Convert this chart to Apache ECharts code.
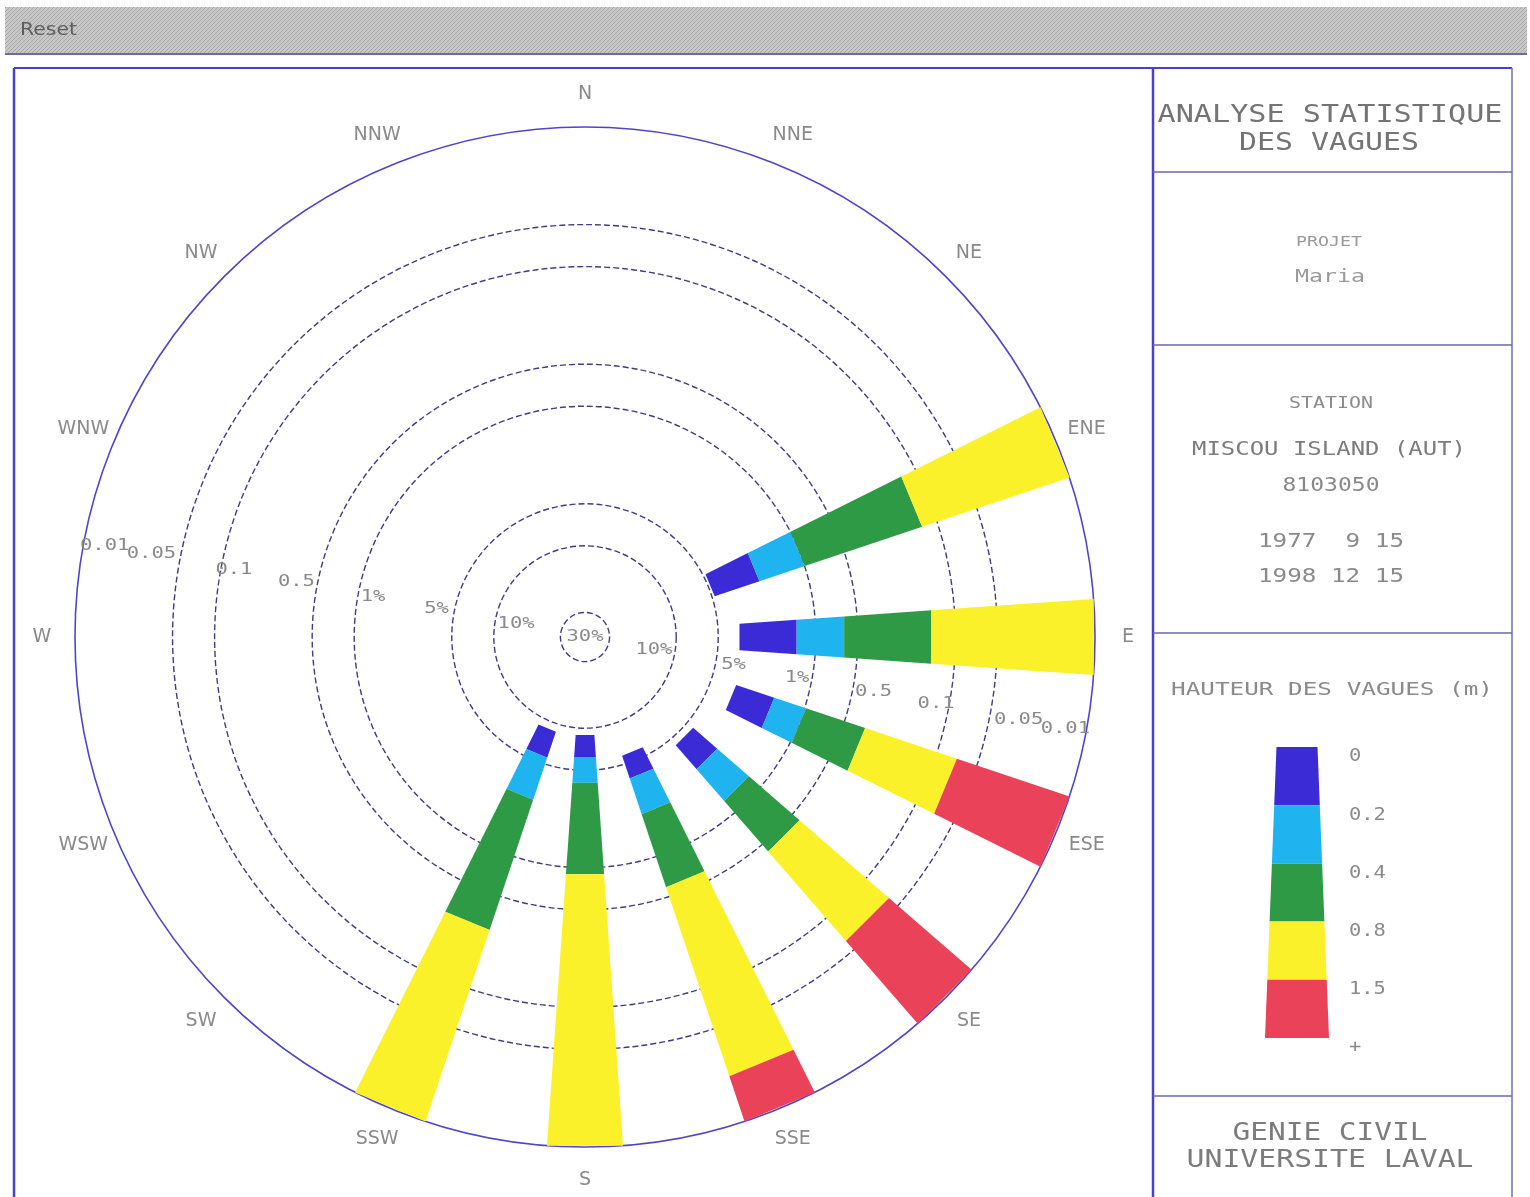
<!DOCTYPE html>
<html>
<head>
<meta charset="utf-8">
<script src="https://cdn.jsdelivr.net/npm/echarts@6/dist/echarts.min.js"></script>
<style>
html,body{margin:0;padding:0;background:#fff;}
#chart{width:1530px;height:1197px;}
</style>
</head>
<body>
<div id="chart"></div>
<script>
// ---------------- DATA ----------------
const directions = ['N','NNE','NE','ENE','E','ESE','SE','SSE','S','SSW','SW','WSW','W','WNW','NW','NNW'];
const heightClasses = ['0','0.2','0.4','0.8','1.5','+'];
// Exceedance frequency (% of time) of each wave-height threshold, per direction (null = no waves)
const exceedH000 = [null,null,null,4.8, 3.5, 3.3, 4.4, 5.8, 8.9, 8.8, null,null,null,null,null,null];
const exceedH020 = [null,null,null,2.2, 1.36,1.7, 2.6, 3.9, 6.2, 5.6, null,null,null,null,null,null];
const exceedH040 = [null,null,null,1.0, 0.62,0.98,1.3, 2.1, 4.05,2.7, null,null,null,null,null,null];
const exceedH080 = [null,null,null,0.13,0.147,0.35,0.43,0.59,0.89,0.28,null,null,null,null,null,null];
const exceedH150 = [null,null,null,null,null, 0.071,0.061,0.022,null,null,null,null,null,null,null,null];
const ringValues = [30, 10, 5, 1, 0.5, 0.1, 0.05, 0.01];
const ringLabels = ['30%','10%','5%','1%','0.5','0.1','0.05','0.01'];

// ---------------- STYLE ----------------
const RADIUS_MIN = 0.01, RADIUS_MAX = 45;
const classColors = ['#3a2bd6','#1fb3ef','#2f9a46','#fbf12b','#ea4259'];
const MONO = "'DejaVu Sans Mono', monospace";
const SANS = "'DejaVu Sans', sans-serif";
const BAR_HALF = 4.0;   // degrees
const BAR_PAD = 2.5;    // px
const LABEL_ANGLES = [100.8, 280.8];
const ringLabelShift = [0, -21, 18, -15, 21, -13, 29, -21];
const DIR_LABEL_GAP = 33; // px beyond outer ring

const mctx = document.createElement('canvas').getContext('2d');
function measure(str, size, fam) { mctx.font = size + 'px ' + fam; return mctx.measureText(str).width; }

// ---------------- BUILD SERIES DATA ----------------
const boundaries = [exceedH000, exceedH020, exceedH040, exceedH080, exceedH150];
const barData = [];
directions.forEach((d, i) => {
  if (exceedH000[i] == null) return;
  const ang = i * 22.5;
  for (let c = 0; c < boundaries.length; c++) {
    const pIn = boundaries[c][i];
    if (pIn == null) continue;
    let pOut = RADIUS_MIN;
    for (let k = c + 1; k < boundaries.length; k++) {
      if (boundaries[k][i] != null) { pOut = boundaries[k][i]; break; }
    }
    barData.push([ang, pIn, pOut, c]);
  }
});

function renderBar(params, api) {
  const ang = api.value(0), pIn = api.value(1), pOut = api.value(2), cls = api.value(3);
  const t = ang * Math.PI / 180;
  const nx = Math.cos(t), ny = Math.sin(t);
  const a = api.coord([pIn, ang - BAR_HALF]), b = api.coord([pIn, ang + BAR_HALF]);
  const c = api.coord([pOut, ang + BAR_HALF]), d = api.coord([pOut, ang - BAR_HALF]);
  const o = BAR_PAD;
  return {
    type: 'polygon',
    shape: { points: [[a[0]-o*nx, a[1]-o*ny], [b[0]+o*nx, b[1]+o*ny], [c[0]+o*nx, c[1]+o*ny], [d[0]-o*nx, d[1]-o*ny]] },
    style: { fill: classColors[cls] }
  };
}

function ringText(str, x, y) {
  return { type: 'text', x: x, y: y, scaleX: 1.28,
    style: { text: str, fontSize: 16, fontFamily: MONO, fill: '#8a8a8a', align: 'center', verticalAlign: 'middle' } };
}

function renderRing(params, api) {
  const i = params.dataIndex;
  const p = api.value(0);
  const cs = params.coordSys;
  const edge = api.coord([p, 90]);
  const r = Math.hypot(edge[0] - cs.cx, edge[1] - cs.cy);
  const children = [];
  if (p > RADIUS_MIN) {
    children.push({ type: 'circle', shape: { cx: cs.cx, cy: cs.cy, r: r },
      style: { fill: 'none', stroke: '#3f3c82', lineWidth: 1.4, lineDash: [6, 3] } });
  }
  if (i === 0) {
    children.push(ringText(ringLabels[i], cs.cx, cs.cy));
  } else {
    LABEL_ANGLES.forEach(aDeg => {
      const t = aDeg * Math.PI / 180;
      const rr = r + ringLabelShift[i];
      children.push(ringText(ringLabels[i], cs.cx + rr * Math.sin(t), cs.cy - rr * Math.cos(t)));
    });
  }
  return { type: 'group', children: children };
}

function renderDir(params, api) {
  const ang = api.value(1);
  const cs = params.coordSys;
  const edge = api.coord([api.value(0), ang]);
  const dx = edge[0] - cs.cx, dy = edge[1] - cs.cy;
  const r = Math.hypot(dx, dy) || 1;
  const k = (r + DIR_LABEL_GAP) / r;
  return { type: 'text', x: cs.cx + dx * k, y: cs.cy + dy * k,
    style: { text: directions[params.dataIndex], fontSize: 19, fontFamily: SANS, fill: '#8a8a8a', align: 'center', verticalAlign: 'middle' } };
}

// ---------------- GRAPHIC (frame, header, side panel) ----------------
const pc = document.createElement('canvas'); pc.width = 4; pc.height = 4;
const pg = pc.getContext('2d');
pg.fillStyle = '#c8c8c8'; pg.fillRect(0, 0, 4, 4);
pg.fillStyle = '#a6a6a6'; pg.fillRect(0, 0, 1, 1); pg.fillRect(2, 2, 1, 1); pg.fillRect(1, 3, 1, 1); pg.fillRect(3, 1, 1, 1);

const graphics = [];
graphics.push({ type: 'rect', shape: { x: 5, y: 7, width: 1522, height: 47 }, style: { fill: { image: pc, repeat: 'repeat' } }, z: 0 });
graphics.push({ type: 'line', shape: { x1: 5, y1: 54, x2: 1527, y2: 54 }, style: { stroke: '#6c6c96', lineWidth: 2 } });
graphics.push({ type: 'text', x: 20, y: 31, scaleX: 1.2, style: { text: 'Reset', fontSize: 17, fontFamily: SANS, fill: '#5e5e5e', align: 'left', verticalAlign: 'middle' } });

function line(x1, y1, x2, y2, color, w) {
  graphics.push({ type: 'line', shape: { x1, y1, x2, y2 }, style: { stroke: color, lineWidth: w } });
}
line(14, 68, 1512, 68, '#4b40cc', 2);
line(14, 68, 14, 1197, '#4b40cc', 2.5);
line(1153, 68, 1153, 1197, '#4b40cc', 2.5);
line(1512, 68, 1512, 1197, '#7270b2', 1.5);
[172, 345, 633, 1096].forEach(y => line(1153, y, 1512, y, '#6a68a8', 1.5));

function panelText(str, cx, cy, size, width, color) {
  const sx = width / measure(str, size, MONO);
  graphics.push({ type: 'text', x: cx, y: cy, scaleX: sx,
    style: { text: str, fontSize: size, fontFamily: MONO, fill: color, align: 'center', verticalAlign: 'middle' } });
}
panelText('ANALYSE STATISTIQUE', 1330, 115, 25, 345, '#747474');
panelText('DES VAGUES', 1329, 143, 25, 180, '#747474');
panelText('PROJET', 1329, 242, 14, 66, '#9a9a9a');
panelText('Maria', 1330, 278, 17, 70, '#9a9a9a');
panelText('STATION', 1331, 404, 15, 84, '#8c8c8c');
panelText('MISCOU ISLAND (AUT)', 1329, 450, 20, 274, '#7c7c7c');
panelText('8103050', 1331, 486, 19, 97, '#8a8a8a');
panelText('1977  9 15', 1331, 542, 20, 146, '#8a8a8a');
panelText('1998 12 15', 1331, 577, 20, 146, '#8a8a8a');
panelText('HAUTEUR DES VAGUES (m)', 1332, 691, 17, 322, '#8a8a8a');
panelText('GENIE CIVIL', 1330, 1133, 25, 195, '#7c7c7c');
panelText('UNIVERSITE LAVAL', 1330, 1160, 25, 287, '#7c7c7c');

// legend column (tapered)
const LEG_TOP = 747, LEG_BOTTOM = 1038, LEG_CX = 1297, LEG_W_TOP = 41, LEG_W_BOTTOM = 64;
const nCls = classColors.length;
const segH = (LEG_BOTTOM - LEG_TOP) / nCls;
function legW(y) { return LEG_W_TOP + (LEG_W_BOTTOM - LEG_W_TOP) * (y - LEG_TOP) / (LEG_BOTTOM - LEG_TOP); }
for (let c = 0; c < nCls; c++) {
  const y0 = LEG_TOP + c * segH, y1 = y0 + segH;
  const w0 = legW(y0) / 2, w1 = legW(y1) / 2;
  graphics.push({ type: 'polygon', shape: { points: [[LEG_CX - w0, y0], [LEG_CX + w0, y0], [LEG_CX + w1, y1], [LEG_CX - w1, y1]] },
    style: { fill: classColors[c] } });
}
heightClasses.forEach((lab, k) => {
  const y = LEG_TOP + k * segH + 10;
  graphics.push({ type: 'text', x: 1349, y: y, scaleX: 1.2,
    style: { text: lab, fontSize: 17, fontFamily: MONO, fill: '#8a8a8a', align: 'left', verticalAlign: 'middle' } });
});

// ---------------- CHART ----------------
const chart = echarts.init(document.getElementById('chart'), null, { renderer: 'canvas' });
chart.setOption({
  backgroundColor: '#ffffff',
  animation: false,
  polar: { center: [585, 637], radius: 510 },
  angleAxis: {
    type: 'value', min: 0, max: 360, interval: 22.5, startAngle: 90, clockwise: true,
    axisLine: { show: true, lineStyle: { color: '#4f45c8', width: 1.6 } },
    axisTick: { show: false },
    splitLine: { show: false },
    axisLabel: { show: false }
  },
  radiusAxis: {
    type: 'log', logBase: 10, min: RADIUS_MIN, max: RADIUS_MAX, inverse: true,
    axisLine: { show: false }, axisTick: { show: false }, axisLabel: { show: false },
    splitLine: { show: false }, splitArea: { show: false }
  },
  series: [
    {
      type: 'custom', name: 'rings', coordinateSystem: 'polar', z: 1,
      encode: { radius: 0, angle: 1 },
      data: ringValues.map(v => [v, 0]),
      renderItem: renderRing, silent: true
    },
    {
      type: 'custom', name: 'directions', coordinateSystem: 'polar', z: 1,
      encode: { radius: 0, angle: 1 },
      data: directions.map((d, i) => [RADIUS_MIN, i * 22.5]),
      renderItem: renderDir, silent: true
    },
    {
      type: 'custom', name: 'waves', coordinateSystem: 'polar', z: 2,
      encode: { angle: 0, radius: 1 },
      data: barData,
      renderItem: renderBar
    }
  ],
  graphic: { elements: graphics }
});
</script>
</body>
</html>
